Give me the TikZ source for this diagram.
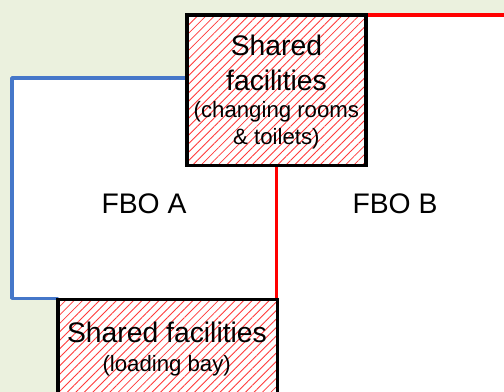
\documentclass[tikz,border=0pt]{standalone}
\usepackage{fontspec}
\setmainfont{Liberation Sans}
\usetikzlibrary{patterns.meta}
\definecolor{bggreen}{HTML}{EBF1DE}
\definecolor{lineblue}{HTML}{4577C9}
\definecolor{hatchred}{HTML}{FF3A3A}
\tikzset{
  bigtxt/.style={font=\fontsize{28.3}{33}\selectfont, anchor=base, inner sep=0pt},
  smalltxt/.style={font=\fontsize{22.2}{27}\selectfont, anchor=base, inner sep=0pt},
  sharedbox/.style={draw=black, line width=3.6pt, fill=white, inner sep=0pt, outer sep=0pt,
    anchor=north west,
    postaction={pattern={Lines[angle=45,distance=6pt,line width=0.85pt]}, pattern color=hatchred}},
  redline/.style={draw=red, line width=3.3pt},
  blueline/.style={draw=lineblue, line width=3.5pt, line join=round, line cap=round},
}
\begin{document}
\begin{tikzpicture}[x=1pt,y=-1pt]
\useasboundingbox (0,0) rectangle (504,391.6);
\fill[bggreen] (-3,-3) rectangle (507,397);
% white floor areas
\fill[white] (12,78) rectangle (276.4,298.3);
\fill[white] (276.4,15) rectangle (507,397);
% outlines
\coordinate (rtop) at (507,15);
\coordinate (acorner1) at (12,78);
\coordinate (acorner2) at (12,298.3);
% shared boxes
\node[sharedbox, minimum width=179.4pt, minimum height=150.3pt] (topbox) at (186.8,15) {};
\node[sharedbox, minimum width=219.6pt, minimum height=110pt] (botbox) at (57.7,299.5) {};
\draw[redline] (topbox.north east) -- (rtop);
\draw[redline] (topbox.south) -- (topbox.south |- botbox.north);
\draw[blueline] (topbox.west |- acorner1) -- (acorner1) -- (acorner2) -- (botbox.west |- acorner2);
% redraw box borders on top
\draw[black, line width=3.6pt] (topbox.south west) rectangle (topbox.north east);
\draw[black, line width=3.6pt] (botbox.south west) rectangle (botbox.north east);
% texts
\node[bigtxt] (t1) at (276.5,55) {Shared};
\node[bigtxt] (t2) at (276.5,90) {facilities};
\node[smalltxt] (t3) at (276.4,117.3) {(changing rooms};
\node[smalltxt] (t4) at (276.4,144) {\& toilets)};
\node[bigtxt] (fboa) at (144,213.3) {FBO A};
\node[bigtxt] (fbob) at (395,213.3) {FBO B};
\node[bigtxt] (b1) at (167,342.3) {Shared facilities};
\node[smalltxt] (b2) at (166.7,371.7) {(loading bay)};
\end{tikzpicture}
\end{document}
